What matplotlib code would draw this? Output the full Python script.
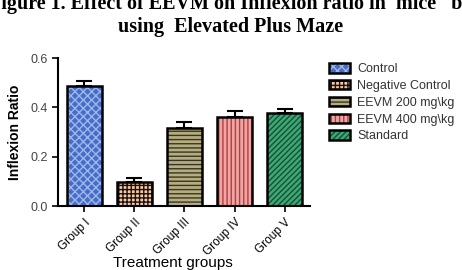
import numpy as np
import matplotlib.pyplot as plt

groups = ['Group I', 'Group II', 'Group III', 'Group IV', 'Group V']
series = ['Control', 'Negative Control', 'EEVM 200 mg\\kg', 'EEVM 400 mg\\kg', 'Standard']
values = [0.486, 0.097, 0.316, 0.360, 0.377]
errors = [0.021, 0.015, 0.024, 0.024, 0.017]

colors = ['#4a6cc4', '#f6c9a2', '#b5ad82', '#f2a3a3', '#3fa872']
hatch_colors = ['#9ab8f0', '#1a1010', '#3a3520', '#b04040', '#12503a']
hatches = ['xxxx', '++++', '----', '||||', '//////']

fig = plt.figure(figsize=(4.62, 2.7), dpi=100)
ax = fig.add_axes([0.1255, 0.237, 0.545, 0.548])

x = np.arange(len(groups))
for i in range(len(groups)):
    plt.rcParams['hatch.color'] = hatch_colors[i]
    b = ax.bar(x[i], values[i], width=0.7, color=colors[i], edgecolor='black',
               linewidth=1.8, hatch=hatches[i], label=series[i])
    b[0]._hatch_color = plt.matplotlib.colors.to_rgba(hatch_colors[i])
    ax.errorbar(x[i], values[i], yerr=[[0], [errors[i]]], fmt='none',
                ecolor='black', elinewidth=1.5, capsize=6, capthick=1.5)

ax.set_xlim(-0.52, 4.5)
ax.set_ylim(0, 0.6)
ax.set_yticks([0.0, 0.2, 0.4, 0.6])
ax.set_yticklabels(['0.0', '0.2', '0.4', '0.6'], fontsize=9, color='#444444',
                   family='Liberation Sans')
ax.set_xticks(x)
ax.set_xticklabels(groups, rotation=45, ha='right', rotation_mode='anchor',
                   fontsize=8.5, family='Liberation Sans')
ax.spines['top'].set_visible(False)
ax.spines['right'].set_visible(False)
ax.spines['left'].set_linewidth(1.5)
ax.spines['bottom'].set_linewidth(1.5)
ax.tick_params(width=1.2, length=4)

ax.set_ylabel('Inflexion Ratio', fontsize=10, fontweight='bold', family='Liberation Sans',
              labelpad=6)
fig.text(0.375, 0.01, 'Treatment groups', ha='center', fontsize=11,
         family='Liberation Sans')

fig.text(0.5, 0.965, 'Figure 1. Effect of EEVM on Inflexion ratio in  mice   by', ha='center',
         va='baseline', fontsize=14.5, fontweight='bold', family='Liberation Serif')
fig.text(0.5, 0.88, 'using  Elevated Plus Maze', ha='center', va='baseline', fontsize=14.5,
         fontweight='bold', family='Liberation Serif')

leg = ax.legend(loc='upper left', bbox_to_anchor=(1.03, 1.04), frameon=False,
                handlelength=1.7, handleheight=0.75, labelspacing=0.38,
                handletextpad=0.6, prop={'family': 'Liberation Sans', 'size': 9})
for t in leg.get_texts():
    t.set_color('#333333')

fig.savefig('out.png', dpi=100)
